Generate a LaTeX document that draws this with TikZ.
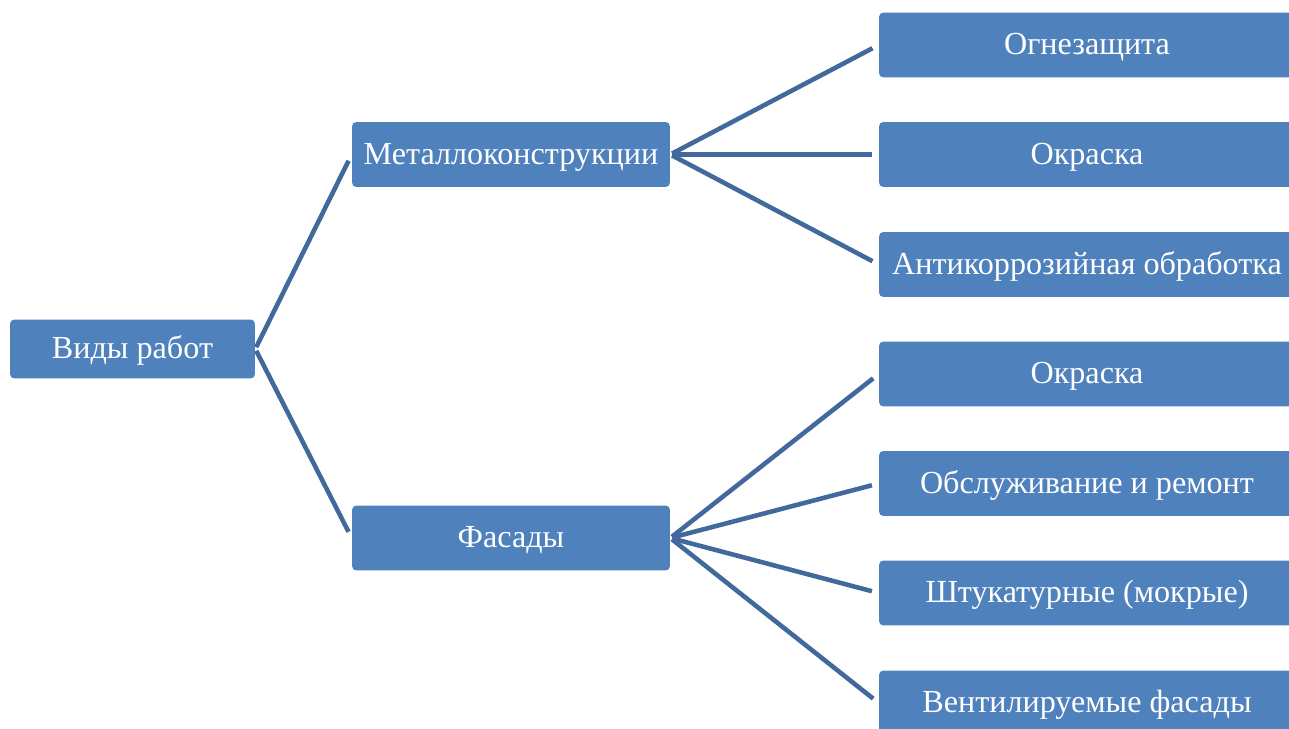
\documentclass[tikz,border=0pt]{standalone}
\usepackage{fontspec}
\setmainfont{Liberation Serif}
\usepackage{xcolor}
\usetikzlibrary{positioning}

\definecolor{boxblue}{HTML}{4F81BD}
\definecolor{lineblue}{HTML}{41699C}

\begin{document}
\begin{tikzpicture}[x=0.02cm, y=-0.02cm,
    box/.style={rectangle, rounded corners=2.5pt, fill=boxblue, text=white, inner sep=0pt,
                minimum height=1.3cm, text height=0.5cm, text depth=0.1cm,
                font=\fontsize{18.3}{22}\selectfont},
    rootbox/.style={box, minimum width=4.9cm, minimum height=1.18cm},
    midbox/.style={box, minimum width=6.36cm},
    leafbox/.style={box, minimum width=8.32cm},
    link/.style={line width=2.6pt, lineblue, shorten <=0.04cm, shorten >=0.14cm}
]
\clip (0,0) rectangle (1289,729);
\fill[white] (0,0) rectangle (1289,729);

\node[rootbox] (root) at (132.5,349) {Виды работ};
\node[midbox] (met) at (511,154.5) {Металлоконструкции};
\node[midbox] (fas) at (511,538) {Фасады};

\node[leafbox] (m1) at (1087,45)    {Огнезащита};
\node[leafbox] (m2) at (1087,154.5) {Окраска};
\node[leafbox] (m3) at (1087,264.5) {Антикоррозийная обработка};
\node[leafbox] (f1) at (1087,374)   {Окраска};
\node[leafbox] (f2) at (1087,483.5) {Обслуживание и ремонт};
\node[leafbox] (f3) at (1087,593)   {Штукатурные (мокрые)};
\node[leafbox] (f4) at (1087,703)   {Вентилируемые фасады};

\draw[link] (root.east) -- (met.west);
\draw[link] (root.east) -- (fas.west);
\foreach \i in {1,2,3} {
    \draw[link] (met.east) -- (m\i.west);
}
\foreach \i in {1,2,3,4} {
    \draw[link] (fas.east) -- (f\i.west);
}
\end{tikzpicture}
\end{document}
